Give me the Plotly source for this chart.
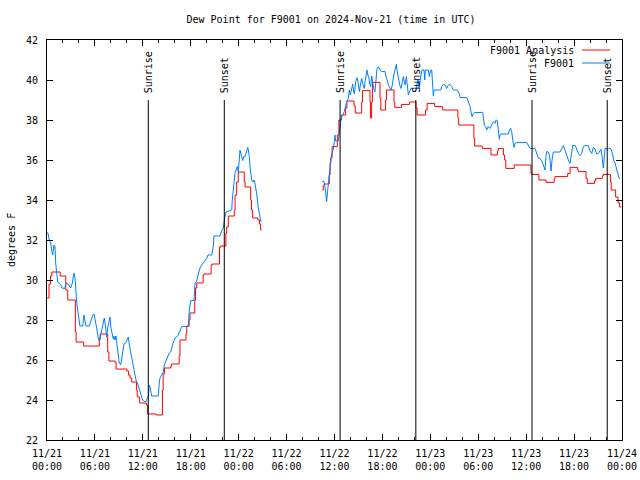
import plotly.graph_objects as go
import pandas as pd

START = pd.Timestamp("2024-11-21 00:00")
END = pd.Timestamp("2024-11-24 00:00")

# (hours since 2024-11-21 00:00 UTC, dew point F)
f9001_obs_day1 = [
    (0.0, 32.35), (0.13, 32.35), (0.29, 31.95), (0.44, 31.9), (0.59, 31.5), (0.71, 31.25),
    (0.88, 31.75), (1.0, 31.7), (1.09, 30.85), (1.21, 30.35), (1.34, 29.9), (1.72, 29.78),
    (1.84, 29.6), (2.25, 29.58), (2.38, 29.85), (2.63, 29.8), (2.79, 29.67), (2.97, 29.6),
    (3.17, 29.85), (3.29, 30.1), (3.38, 30.35), (3.51, 30.1), (3.59, 29.5), (3.72, 28.9),
    (3.84, 28.5), (4.01, 28.0), (4.13, 27.7), (4.47, 27.7), (4.63, 28.25), (4.76, 27.95),
    (4.88, 27.7), (5.3, 27.7), (5.47, 27.95), (5.72, 28.25), (5.89, 28.3), (6.01, 27.95),
    (6.22, 27.6), (6.42, 27.1), (6.55, 26.95), (6.72, 27.25), (6.85, 27.5), (7.05, 27.85),
    (7.18, 28.1), (7.35, 27.6), (7.48, 27.15), (7.6, 27.6), (7.76, 28.0), (7.89, 28.15),
    (8.01, 27.6), (8.18, 27.35), (8.3, 27.05), (8.39, 27.2), (8.51, 27.0), (8.64, 27.2),
    (8.8, 26.6), (8.93, 26.25), (9.05, 25.85), (9.23, 25.75), (9.35, 26.0), (9.48, 26.4),
    (9.64, 26.8), (9.85, 26.85), (10.06, 27.1), (10.18, 27.15), (10.31, 26.75), (10.48, 26.4),
    (10.68, 26.0), (10.89, 25.6), (11.02, 25.2), (11.14, 25.0), (11.31, 24.85), (11.52, 24.6),
    (11.65, 24.4), (11.86, 24.25), (11.98, 24.0), (12.15, 23.92), (12.4, 23.92), (12.56, 24.1),
    (12.68, 24.15), (12.81, 24.75), (12.93, 24.6), (13.11, 24.2), (13.94, 24.2), (14.06, 24.85),
    (14.15, 25.1), (14.36, 25.25), (14.56, 25.4), (14.69, 25.75), (14.86, 25.9), (15.06, 26.1),
    (15.31, 26.35), (15.49, 26.4), (15.74, 26.8), (16.03, 27.1), (16.24, 27.15), (16.44, 27.25),
    (16.65, 27.5), (16.87, 27.67), (17.69, 27.67), (17.82, 28.5), (18.0, 28.97), (18.41, 28.97),
    (18.53, 29.83), (18.75, 29.95), (18.95, 30.3), (19.16, 30.6), (19.37, 30.75), (19.57, 30.85),
    (19.78, 30.95), (20.0, 31.08), (20.16, 31.25), (20.62, 31.25), (20.82, 31.67), (20.91, 32.2),
    (21.66, 32.2), (21.88, 32.47), (22.08, 32.58), (22.2, 33.0), (22.41, 33.4), (23.13, 33.5),
    (23.2, 34.0), (23.33, 34.58), (23.45, 35.0), (23.54, 35.33), (23.67, 35.5), (23.83, 35.67),
    (23.95, 35.4), (24.08, 36.0), (24.17, 36.5), (24.29, 36.3), (24.38, 36.08), (24.51, 35.97),
    (24.63, 36.17), (24.79, 36.17), (24.92, 36.33), (25.01, 36.5), (25.13, 36.63), (25.21, 36.5),
    (25.34, 36.17), (25.42, 35.67), (25.51, 35.17), (25.63, 35.0), (25.8, 34.9), (25.93, 35.0),
    (26.05, 34.8), (26.26, 34.3), (26.46, 33.6), (26.67, 33.1), (26.8, 32.9),
]

f9001_obs_day2 = [
    (34.47, 34.92), (34.69, 34.92), (34.81, 34.67), (34.94, 34.25), (35.02, 33.92), (35.15, 34.5),
    (35.22, 34.83), (35.35, 35.4), (35.44, 35.92), (35.56, 36.1), (35.72, 36.4), (35.85, 36.55),
    (35.98, 36.92), (36.06, 37.25), (36.15, 36.95), (36.48, 36.95), (36.56, 37.3), (36.69, 37.75),
    (36.81, 38.0), (36.98, 38.25), (37.1, 38.3), (37.23, 38.42), (37.4, 38.75), (37.53, 38.92),
    (37.73, 39.08), (37.85, 39.5), (37.98, 39.25), (38.16, 39.67), (38.28, 39.8), (38.41, 39.4),
    (38.48, 39.3), (38.66, 39.92), (38.82, 40.12), (38.91, 40.0), (38.99, 39.7), (39.11, 39.42),
    (39.24, 39.75), (39.41, 40.08), (39.57, 39.75), (39.73, 39.58), (39.82, 39.9), (39.95, 40.33),
    (40.07, 40.5), (40.2, 40.2), (40.28, 40.2), (40.41, 39.8), (40.53, 39.67), (40.66, 40.2),
    (40.78, 39.9), (40.91, 39.58), (41.07, 39.42), (41.2, 40.0), (41.32, 40.58), (41.49, 40.67),
    (41.7, 40.5), (41.91, 40.42), (42.33, 40.42), (42.45, 40.17), (42.66, 39.92), (42.83, 39.67),
    (43.08, 39.5), (43.24, 39.75), (43.42, 40.25), (43.58, 40.6), (43.74, 40.78), (43.83, 40.5),
    (43.99, 40.08), (44.17, 39.75), (44.33, 39.58), (44.49, 39.9), (44.62, 40.17), (44.74, 39.9),
    (44.83, 39.75), (45.0, 40.17), (45.17, 39.42), (45.25, 39.25), (45.37, 39.4), (45.58, 39.58),
    (46.08, 39.58), (46.21, 39.6), (46.46, 40.0), (46.6, 39.6), (46.8, 40.2), (46.96, 40.5),
    (47.21, 40.5), (47.3, 40.0), (47.37, 40.5), (47.75, 40.5), (47.87, 40.17), (48.05, 40.5),
    (48.17, 40.5), (48.3, 39.67), (48.38, 39.2), (48.46, 39.5), (49.3, 39.5), (49.42, 39.67),
    (49.62, 39.78), (49.84, 39.75), (50.05, 39.58), (50.25, 39.75), (50.46, 39.78), (50.68, 39.67),
    (50.88, 39.5), (51.34, 39.5), (51.63, 39.33), (51.72, 39.12), (52.55, 39.12), (52.68, 39.0),
    (52.88, 38.83), (52.97, 38.67), (53.09, 38.42), (53.22, 38.17), (53.38, 38.33), (53.51, 38.37),
    (54.56, 38.38), (54.63, 38.17), (54.76, 37.75), (54.93, 37.67), (55.06, 37.5), (55.26, 37.67),
    (55.47, 37.58), (55.68, 37.75), (55.89, 37.92), (56.1, 37.83), (56.23, 38.0), (56.39, 37.97),
    (56.52, 37.42), (56.64, 37.03), (56.73, 37.25), (56.85, 37.3), (57.77, 37.3), (57.89, 37.5),
    (58.07, 37.58), (58.19, 37.42), (58.32, 37.0), (58.48, 36.63), (58.61, 36.83), (58.82, 36.87),
    (60.07, 36.87), (60.28, 36.75), (60.49, 36.58), (61.11, 36.58), (61.32, 36.33), (61.52, 36.1),
    (61.73, 36.08), (61.95, 35.95), (62.15, 35.75), (62.36, 35.5), (62.48, 36.17), (62.57, 36.42),
    (62.77, 36.4), (62.9, 36.25), (62.99, 36.0), (63.11, 35.45), (63.24, 36.0), (63.4, 36.4),
    (64.24, 36.4), (64.45, 36.55), (64.65, 36.72), (64.86, 36.5), (65.08, 36.17), (65.28, 36.0),
    (65.49, 35.83), (65.62, 36.17), (65.83, 36.72), (66.16, 36.72), (66.33, 36.5), (66.53, 36.33),
    (66.74, 36.22), (66.95, 36.33), (67.16, 36.67), (67.37, 36.72), (67.78, 36.72), (68.0, 36.45),
    (68.21, 36.33), (68.41, 36.63), (68.62, 36.55), (68.83, 36.3), (69.03, 36.33), (69.24, 36.45),
    (69.37, 36.53), (69.5, 36.2), (69.58, 35.83), (69.66, 35.6), (69.75, 36.0), (69.88, 36.58),
    (70.29, 36.55), (70.5, 36.6), (70.67, 36.5), (70.85, 36.25), (70.93, 36.0), (71.14, 35.85),
    (71.35, 35.5), (71.51, 35.3), (71.68, 35.05),
]

# Analysis (step values): (hours, dew point F)
f9001_analysis_day1 = [
    (0.0, 29.1), (0.25, 29.8), (0.45, 30.2), (0.6, 30.4), (1.65, 30.2), (2.35, 29.5),
    (2.6, 29.0), (3.55, 27.4), (3.65, 26.9), (4.6, 26.7), (6.55, 27.0), (6.65, 27.3),
    (7.6, 26.4), (7.75, 25.95), (8.5, 25.9), (8.65, 25.55), (10.0, 25.45), (10.2, 25.25),
    (10.4, 25.1), (10.6, 24.9), (11.2, 24.5), (11.3, 24.15), (11.6, 23.85), (12.45, 23.75),
    (12.6, 23.3), (13.7, 23.25), (14.45, 24.5), (14.55, 25.3), (14.7, 25.6), (15.5, 25.7),
    (15.6, 25.8), (16.55, 26.2), (16.65, 27.0), (17.4, 27.3), (17.5, 27.7), (17.8, 28.0),
    (17.9, 28.35), (18.5, 29.0), (18.6, 29.6), (18.75, 29.85), (19.55, 30.25), (19.65, 30.3),
    (20.55, 30.75), (20.7, 30.8), (21.6, 31.65), (21.75, 31.7), (22.4, 32.35), (22.5, 32.65),
    (22.7, 33.2), (23.45, 33.5), (23.55, 34.25), (23.75, 34.9), (23.95, 35.4), (24.7, 34.9),
    (24.8, 34.65), (25.5, 34.0), (25.6, 33.5), (25.75, 33.1), (26.4, 33.0), (26.6, 32.8),
    (26.75, 32.5), (26.85, 32.5),
]

f9001_analysis_day2 = [
    (34.47, 34.5), (34.6, 34.7), (34.7, 34.8), (35.35, 35.25), (35.45, 35.85), (35.55, 36.1),
    (35.7, 36.67), (36.35, 37.25), (36.55, 38.0), (36.85, 38.25), (37.4, 38.6), (37.55, 38.95),
    (38.45, 38.7), (38.6, 38.35), (39.4, 38.9), (39.5, 39.47), (40.45, 38.9), (40.5, 38.1),
    (40.65, 38.9), (40.75, 39.88), (41.7, 39.1), (41.8, 38.5), (42.4, 39.0), (42.5, 39.5),
    (43.45, 38.88), (43.55, 38.63), (44.4, 38.78), (45.4, 38.9), (46.2, 38.6), (46.35, 38.25),
    (47.4, 38.5), (47.6, 38.83), (48.55, 38.67), (49.55, 38.5), (51.45, 38.1), (51.55, 37.75),
    (53.45, 37.1), (53.55, 36.7), (54.5, 36.58), (55.6, 36.25), (56.4, 36.45), (56.5, 36.58),
    (57.15, 36.25), (57.3, 36.0), (57.45, 35.58), (58.5, 35.75), (60.6, 35.33), (60.7, 35.28),
    (61.6, 35.0), (62.5, 34.88), (63.5, 35.05), (63.6, 35.17), (65.2, 35.33), (65.5, 35.63),
    (66.45, 35.5), (66.55, 35.42), (67.5, 35.08), (67.65, 34.83), (68.55, 34.95), (68.7, 35.08),
    (69.55, 35.2), (69.65, 35.28), (70.55, 34.9), (70.65, 34.5), (71.2, 34.15), (71.5, 33.85),
    (71.7, 33.65), (71.9, 33.65),
]

sun_events = ["Sunrise", "Sunset", "Sunrise", "Sunset", "Sunrise", "Sunset"]
sun_times = ["2024-11-21 12:41", "2024-11-21 22:12", "2024-11-22 12:42",
             "2024-11-22 22:11", "2024-11-23 12:44", "2024-11-23 22:09"]
sun_line_top = 39

legend_names = ["F9001 Analysis", "F9001"]
series_colors = ["#ff0000", "#0080ff"]

y_range = [22, 42]
title_text = "Dew Point for F9001 on 2024-Nov-21 (time in UTC)"
y_title = "degrees F"

FONT = "DejaVu Sans Mono"

FIG_W, FIG_H = 640, 480
PLOT_L, PLOT_R, PLOT_T, PLOT_B = 47, 622, 40, 440   # pixels of the plot frame


def join_segments(seg_a, seg_b):
    xs = [START + pd.Timedelta(hours=h) for h, _ in seg_a]
    ys = [v for _, v in seg_a]
    gap_h = (seg_a[-1][0] + seg_b[0][0]) / 2
    xs.append(START + pd.Timedelta(hours=gap_h))
    ys.append(None)
    xs += [START + pd.Timedelta(hours=h) for h, _ in seg_b]
    ys += [v for _, v in seg_b]
    return xs, ys


ax_x, ax_y = join_segments(f9001_analysis_day1, f9001_analysis_day2)
ob_x, ob_y = join_segments(f9001_obs_day1, f9001_obs_day2)

fig = go.Figure()
fig.add_trace(go.Scatter(x=ax_x, y=ax_y, mode="lines", name=legend_names[0],
                         line=dict(color=series_colors[0], width=1, shape="hv"),
                         connectgaps=False, showlegend=False))
fig.add_trace(go.Scatter(x=ob_x, y=ob_y, mode="lines", name=legend_names[1],
                         line=dict(color=series_colors[1], width=1),
                         connectgaps=False, showlegend=False))

# sunrise / sunset markers
for name, t in zip(sun_events, sun_times):
    fig.add_shape(type="line", xref="x", yref="y", x0=t, x1=t, y0=y_range[0], y1=sun_line_top,
                  line=dict(color="black", width=1))
    fig.add_annotation(x=t, y=sun_line_top, xref="x", yref="y", text=name, textangle=-90,
                       showarrow=False, xanchor="center", yanchor="bottom", yshift=5,
                       font=dict(family=FONT, size=10, color="black"))

# gnuplot-style legend: text right-aligned, sample line to the right
W, H = float(PLOT_R - PLOT_L), float(PLOT_B - PLOT_T)
legend_rows_px = [50, 63]
for name, color, py in zip(legend_names, series_colors, legend_rows_px):
    yp = (PLOT_B - py) / H
    fig.add_annotation(x=(576 - PLOT_L) / W, y=yp, xref="paper", yref="paper", text=name,
                       showarrow=False, xanchor="right", yanchor="middle",
                       font=dict(family=FONT, size=10, color="black"))
    fig.add_shape(type="line", xref="paper", yref="paper", x0=(582 - PLOT_L) / W,
                  x1=(610 - PLOT_L) / W, y0=yp, y1=yp, line=dict(color=color, width=1))

fig.add_annotation(x=-(PLOT_L - 11) / W, y=0.5, xref="paper", yref="paper", text=y_title,
                   textangle=-90, showarrow=False, xanchor="center", yanchor="middle",
                   font=dict(family=FONT, size=10, color="black"))

fig.update_layout(
    width=FIG_W, height=FIG_H,
    margin=dict(l=PLOT_L, r=FIG_W - PLOT_R, t=PLOT_T, b=FIG_H - PLOT_B, autoexpand=False),
    paper_bgcolor="white", plot_bgcolor="white",
    title=dict(text=title_text, x=331 / FIG_W, xanchor="center", xref="container",
               y=1 - 19 / FIG_H, yanchor="middle", yref="container",
               font=dict(family=FONT, size=10, color="black")),
    font=dict(family=FONT, size=10, color="black"),
    showlegend=False,
    hovermode=False,
)
fig.update_xaxes(
    type="date", range=[START, END], showgrid=False, zeroline=False,
    showline=True, linecolor="black", linewidth=1, mirror="ticks",
    ticks="inside", ticklen=6, tickcolor="black", tickwidth=1,
    tick0=START, dtick=6 * 3600 * 1000, tickformat="%m/%d<br>%H:%M",
    ticklabelstandoff=4,
    minor=dict(ticks="inside", ticklen=3, dtick=2 * 3600 * 1000, tickcolor="black", showgrid=False),
    tickfont=dict(family=FONT, size=10, color="black"),
)
fig.update_yaxes(
    range=y_range, dtick=2, showgrid=False, zeroline=False,
    showline=True, linecolor="black", linewidth=1, mirror="ticks",
    ticks="inside", ticklen=6, tickcolor="black", tickwidth=1,
    ticklabelstandoff=6,
    tickfont=dict(family=FONT, size=10, color="black"),
)

# remove the browser's default 8px page margin so the 640x480 figure fills the window
fig.write_html(
    "out.html",
    config={"displayModeBar": False, "staticPlot": False},
    post_script=("document.body.style.margin='0px';"
                 "document.body.style.overflow='hidden';"
                 "document.documentElement.style.overflow='hidden';"),
)
